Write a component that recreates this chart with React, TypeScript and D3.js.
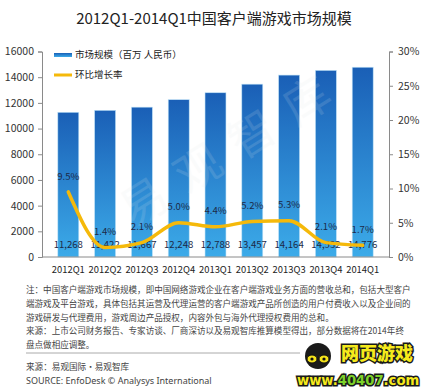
import React, { useEffect, useRef } from "react";
import * as d3 from "d3";

const quarters = ["2012Q1", "2012Q2", "2012Q3", "2012Q4", "2013Q1", "2013Q2", "2013Q3", "2013Q4", "2014Q1"];
const marketSize = [11268, 11422, 11667, 12248, 12788, 13457, 14164, 14532, 14776];
const growthRate = [9.5, 1.4, 2.1, 5.0, 4.4, 5.2, 5.3, 2.1, 1.7];
const leftTicks = [0, 2000, 4000, 6000, 8000, 10000, 12000, 14000, 16000];
const rightTicks = [0, 5, 10, 15, 20, 25, 30];

const notes = [
  "注：中国客户端游戏市场规模，即中国网络游戏企业在客户端游戏业务方面的营收总和，包括大型客户",
  "端游戏及平台游戏，具体包括其运营及代理运营的客户端游戏产品所创造的用户付费收入以及企业间的",
  "游戏研发与代理费用，游戏周边产品授权，内容外包与海外代理授权费用的总和。",
  "来源：上市公司财务报告、专家访谈、厂商深访以及易观智库推算模型得出，部分数据将在2014年终",
  "盘点做相应调整。",
];

const CJK = "'Noto Sans CJK SC', 'Noto Sans', sans-serif";

const App = () => {
  const width = 427;
  const height = 391;
  const ref = useRef(null);

  useEffect(() => {
    const svg = d3.select(ref.current);
    svg.selectAll("*").remove();

    const margin = { top: 51.5, right: 38, bottom: 134, left: 42 };
    const x0 = margin.left;
    const x1 = width - margin.right;
    const y0 = height - margin.bottom;

    const xScale = d3.scaleBand().domain(quarters).range([x0, x1]).padding(0.43);
    const yScale = d3.scaleLinear().domain([0, 16000]).range([y0, margin.top]);
    const rScale = d3.scaleLinear().domain([0, 30]).range([y0, margin.top]);
    const cx = (i) => xScale(quarters[i]) + xScale.bandwidth() / 2;

    const defs = svg.append("defs");
    const grad = defs
      .append("linearGradient")
      .attr("id", "barGrad")
      .attr("x1", 0)
      .attr("y1", 0)
      .attr("x2", 0)
      .attr("y2", 1);
    grad.append("stop").attr("offset", "0%").attr("stop-color", "#1a5fb6");
    grad.append("stop").attr("offset", "100%").attr("stop-color", "#3cabe9");

    // title
    svg
      .append("text")
      .attr("x", 214)
      .attr("y", 20)
      .attr("text-anchor", "middle")
      .attr("dominant-baseline", "middle")
      .style("font-family", CJK)
      .style("font-size", "15px")
      .attr("fill", "#222")
      .text("2012Q1-2014Q1中国客户端游戏市场规模");

    // bars
    svg
      .append("g")
      .selectAll("rect")
      .data(marketSize)
      .enter()
      .append("rect")
      .attr("x", (d, i) => xScale(quarters[i]))
      .attr("y", (d) => yScale(d))
      .attr("width", xScale.bandwidth())
      .attr("height", (d) => y0 - yScale(d))
      .attr("fill", "url(#barGrad)")
      .attr("stroke", "#bfe2f7")
      .attr("stroke-width", 0.6);

    // watermark
    svg
      .append("text")
      .attr("transform", "translate(235,150) rotate(-32)")
      .attr("text-anchor", "middle")
      .attr("dominant-baseline", "middle")
      .style("font-family", CJK)
      .style("font-size", "46px")
      .style("letter-spacing", "18px")
      .attr("fill", "#dfe6ea")
      .attr("opacity", 0.14)
      .text("易观智库");

    // axes
    const axisColor = "#8a8a8a";
    const gl = svg
      .append("g")
      .attr("transform", `translate(${x0},0)`)
      .call(d3.axisLeft(yScale).tickValues(leftTicks).tickSize(4).tickPadding(4).tickFormat((d) => `${d}`));
    const gr = svg
      .append("g")
      .attr("transform", `translate(${x1},0)`)
      .call(d3.axisRight(rScale).tickValues(rightTicks).tickSize(4).tickPadding(5).tickFormat((d) => `${d}%`));
    const gb = svg
      .append("g")
      .attr("transform", `translate(0,${y0})`)
      .call(d3.axisBottom(xScale).tickSize(0).tickPadding(9));
    [gl, gr].forEach((g) => {
      g.select(".domain").attr("stroke", axisColor);
      g.selectAll(".tick line").attr("stroke", axisColor);
      g.selectAll("text")
        .attr("fill", "#333")
        .style("font-family", CJK)
        .style("font-size", "10.5px");
    });
    gb.select(".domain").attr("stroke", axisColor).attr("d", `M${x0},0H${x1}`);
    gb.selectAll("text")
      .attr("fill", "#222")
      .style("font-family", CJK)
      .style("font-size", "9.4px");

    // bar value labels
    svg
      .append("g")
      .selectAll("text")
      .data(marketSize)
      .enter()
      .append("text")
      .attr("x", (d, i) => cx(i))
      .attr("y", y0 - 12)
      .attr("text-anchor", "middle")
      .attr("dominant-baseline", "middle")
      .style("font-family", CJK)
      .style("font-size", "9.6px")
      .attr("fill", "#1c2a48")
      .text((d) => d3.format(",")(d));

    // growth line
    const line = d3
      .line()
      .x((d, i) => cx(i))
      .y((d) => rScale(d))
      .curve(d3.curveMonotoneX);
    svg
      .append("path")
      .datum(growthRate)
      .attr("fill", "none")
      .attr("stroke", "#f5b90a")
      .attr("stroke-width", 3.5)
      .attr("stroke-linejoin", "round")
      .attr("stroke-linecap", "round")
      .attr("d", line);

    svg
      .append("g")
      .selectAll("text")
      .data(growthRate)
      .enter()
      .append("text")
      .attr("x", (d, i) => cx(i))
      .attr("y", (d) => rScale(d) - 15)
      .attr("text-anchor", "middle")
      .attr("dominant-baseline", "middle")
      .style("font-family", CJK)
      .style("font-size", "9.6px")
      .attr("fill", "#1c2a48")
      .text((d) => `${d.toFixed(1)}%`);

    // legend
    const lg = svg.append("g");
    lg.append("rect").attr("x", 54).attr("y", 53).attr("width", 18).attr("height", 4).attr("fill", "url(#barGrad)");
    lg.append("text")
      .attr("x", 75)
      .attr("y", 55.5)
      .attr("dominant-baseline", "middle")
      .style("font-family", CJK)
      .style("font-size", "9.5px")
      .attr("fill", "#222")
      .text("市场规模（百万 人民币）");
    lg.append("line").attr("x1", 54).attr("x2", 72).attr("y1", 75).attr("y2", 75).attr("stroke", "#f5b90a").attr("stroke-width", 3);
    lg.append("text")
      .attr("x", 75)
      .attr("y", 75.5)
      .attr("dominant-baseline", "middle")
      .style("font-family", CJK)
      .style("font-size", "9.5px")
      .attr("fill", "#222")
      .text("环比增长率");

    // notes
    svg
      .append("g")
      .selectAll("text")
      .data(notes)
      .enter()
      .append("text")
      .attr("x", 26)
      .attr("y", (d, i) => 291 + i * 13.6)
      .attr("dominant-baseline", "middle")
      .style("font-family", CJK)
      .style("font-size", "8.55px")
      .attr("fill", "#444")
      .text((d) => d);

    svg.append("line").attr("x1", 26).attr("x2", 300).attr("y1", 353).attr("y2", 353).attr("stroke", "#aaa");
    svg
      .append("text")
      .attr("x", 26)
      .attr("y", 368)
      .attr("dominant-baseline", "middle")
      .style("font-family", CJK)
      .style("font-size", "8.6px")
      .attr("fill", "#444")
      .text("来源：易观国际·易观智库");
    svg
      .append("text")
      .attr("x", 26)
      .attr("y", 382)
      .attr("dominant-baseline", "middle")
      .style("font-family", "'Noto Sans', sans-serif")
      .style("font-size", "9px")
      .attr("fill", "#444")
      .text("SOURCE: EnfoDesk © Analysys International");

    // site logo (corner stamp)
    const logo = svg.append("g");
    logo.append("circle").attr("cx", 318).attr("cy", 356).attr("r", 13).attr("fill", "#1a1a1a");
    logo.append("ellipse").attr("cx", 312).attr("cy", 359).attr("rx", 5).attr("ry", 4).attr("fill", "#f3e21a").attr("stroke", "#111");
    logo.append("ellipse").attr("cx", 324).attr("cy", 359).attr("rx", 5).attr("ry", 4).attr("fill", "#f3e21a").attr("stroke", "#111");
    logo.append("circle").attr("cx", 312).attr("cy", 359).attr("r", 1.6).attr("fill", "#111");
    logo.append("circle").attr("cx", 324).attr("cy", 359).attr("r", 1.6).attr("fill", "#111");
    logo
      .append("text")
      .attr("x", 341)
      .attr("y", 355)
      .attr("dominant-baseline", "middle")
      .style("font-family", CJK)
      .style("font-size", "18px")
      .style("font-weight", "900")
      .attr("fill", "#f6ea1c")
      .attr("stroke", "#1a1a1a")
      .attr("stroke-width", 3)
      .style("paint-order", "stroke")
      .text("网页游戏");
    const url = logo
      .append("text")
      .attr("x", 297)
      .attr("y", 381)
      .attr("dominant-baseline", "middle")
      .style("font-family", "'DejaVu Sans', sans-serif")
      .style("font-size", "13.2px")
      .style("font-weight", "bold")
      .attr("stroke", "#1a1a1a")
      .attr("stroke-width", 3)
      .style("paint-order", "stroke");
    url.append("tspan").attr("fill", "#f6ea1c").text("www.");
    url.append("tspan").attr("fill", "#7cd22a").text("40407");
    url.append("tspan").attr("fill", "#f6ea1c").text(".com");
  }, [height, width]);

  return (
    <svg
      ref={ref}
      width={width}
      height={height}
      style={{ position: "absolute", left: 0, top: 0, background: "#fff" }}
    />
  );
};

export default App;
